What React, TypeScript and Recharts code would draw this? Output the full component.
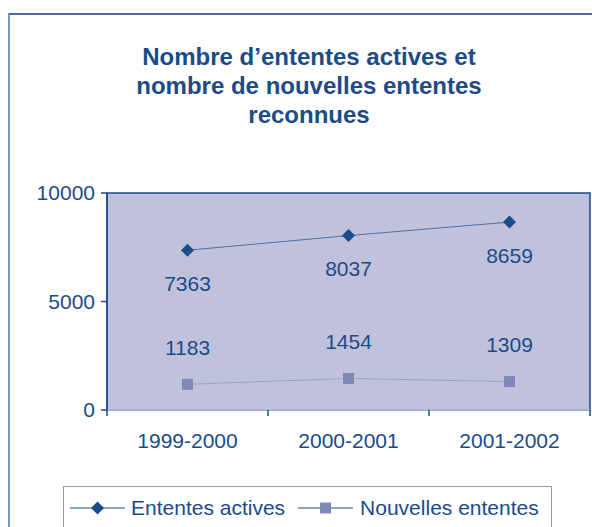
import { LineChart, Line, XAxis, YAxis, ReferenceArea, LabelList } from 'recharts';

// Données
const categories = ['1999-2000', '2000-2001', '2001-2002'];
const ententesActives = [7363, 8037, 8659];
const nouvellesEntentes = [1183, 1454, 1309];
const yTicks = [0, 5000, 10000];

const data = categories.map((periode, i) => ({
  periode,
  actives: ententesActives[i],
  nouvelles: nouvellesEntentes[i],
}));

const FONT = '"Liberation Sans", Arial, Helvetica, sans-serif';
const DARK = '#1b4b88';
const PLOT_BG = '#c0c2db';
const SQUARE = '#8088b8';

const PLOT_LEFT = 107;
const PLOT_RIGHT = 590;
const BAND = (PLOT_RIGHT - PLOT_LEFT) / categories.length;

const Diamond = ({ cx, cy }: any) => (
  <polygon
    points={`${cx},${cy - 6.5} ${cx + 6.5},${cy} ${cx},${cy + 6.5} ${cx - 6.5},${cy}`}
    fill={DARK}
  />
);

const Square = ({ cx, cy }: any) => (
  <rect x={cx - 5.5} y={cy - 5.5} width={11} height={11} fill={SQUARE} />
);

// Excel style : traits de graduation entre les catégories
const XTick = ({ x, y, payload, index }: any) => (
  <g>
    <line x1={x - BAND / 2} x2={x - BAND / 2} y1={y} y2={y + 6} stroke={DARK} strokeWidth={1.5} />
    {index === categories.length - 1 && (
      <line x1={x + BAND / 2} x2={x + BAND / 2} y1={y} y2={y + 6} stroke={DARK} strokeWidth={1.5} />
    )}
    <text x={x} y={y + 31} dy="0.355em" textAnchor="middle" fill={DARK} fontSize={21} fontFamily={FONT}>
      {payload.value}
    </text>
  </g>
);

const makeLabel = (shift: number) => (props: any) => {
  const { x, y, value } = props;
  return (
    <text x={x} y={y + shift} dy="0.355em" textAnchor="middle" fill={DARK} fontSize={21} fontFamily={FONT}>
      {value}
    </text>
  );
};

const LegendIcon = ({ marker }: { marker: 'diamond' | 'square' }) => (
  <svg width={55} height={14} style={{ display: 'block' }}>
    <line x1={0} x2={55} y1={7} y2={7} stroke={DARK} strokeWidth={1.2} />
    {marker === 'diamond' ? (
      <polygon points="27.5,0.5 34,7 27.5,13.5 21,7" fill={DARK} />
    ) : (
      <rect x={22} y={1.5} width={11} height={11} fill={SQUARE} />
    )}
  </svg>
);

export default function App() {
  return (
    <div style={{ position: 'absolute', left: 0, top: 0, width: 592, height: 527, overflow: 'hidden', background: '#fff', fontFamily: FONT }}>
      <div
        style={{
          position: 'absolute',
          left: 8,
          top: 13,
          width: 620,
          height: 560,
          borderLeft: '2px solid #7a9ac6',
          borderTop: '2px solid #4d6e9e',
        }}
      />
      <div
        style={{
          position: 'absolute',
          left: 109,
          top: 42,
          width: 400,
          textAlign: 'center',
          color: DARK,
          fontWeight: 'bold',
          fontSize: 24,
          lineHeight: '29px',
        }}
      >
        Nombre d’ententes actives et
        <br />
        nombre de nouvelles ententes
        <br />
        reconnues
      </div>

      <div style={{ position: 'absolute', left: 0, top: 0 }}>
        <LineChart width={592} height={527} data={data} margin={{ top: 193, right: 2, left: 0, bottom: 87 }}>
          <ReferenceArea yAxisId="y" y1={0} y2={10000} fill={PLOT_BG} fillOpacity={1} stroke={DARK} strokeWidth={1.5} />
          <XAxis
            dataKey="periode"
            scale="band"
            height={30}
            tickSize={0}
            tickMargin={0}
            tick={<XTick />}
            axisLine={{ stroke: '#a3b3d3', strokeWidth: 2 }}
            interval={0}
          />
          <YAxis
            yAxisId="y"
            width={107}
            domain={[0, 10000]}
            ticks={yTicks}
            tickSize={6}
            tickMargin={6}
            axisLine={{ stroke: DARK, strokeWidth: 1.5 }}
            tickLine={{ stroke: DARK, strokeWidth: 1.5 }}
            tick={{ fill: DARK, fontSize: 21, fontFamily: FONT }}
          />
          <Line
            yAxisId="y"
            dataKey="actives"
            type="linear"
            stroke="#4a6fa5"
            strokeWidth={1}
            dot={<Diamond />}
            activeDot={false}
            isAnimationActive={false}
          >
            <LabelList dataKey="actives" content={makeLabel(33)} />
          </Line>
          <Line
            yAxisId="y"
            dataKey="nouvelles"
            type="linear"
            stroke="#98a2c8"
            strokeWidth={1}
            dot={<Square />}
            activeDot={false}
            isAnimationActive={false}
          >
            <LabelList dataKey="nouvelles" content={makeLabel(-37)} />
          </Line>
        </LineChart>
      </div>

      <div
        style={{
          position: 'absolute',
          left: 63,
          top: 486,
          width: 487,
          height: 42,
          border: '1px solid #8aa0c0',
          display: 'flex',
          alignItems: 'center',
          color: DARK,
          fontSize: 21,
        }}
      >
        <div style={{ marginLeft: 6 }}>
          <LegendIcon marker="diamond" />
        </div>
        <span style={{ marginLeft: 6 }}>Ententes actives</span>
        <div style={{ marginLeft: 13 }}>
          <LegendIcon marker="square" />
        </div>
        <span style={{ marginLeft: 7 }}>Nouvelles ententes</span>
      </div>
    </div>
  );
}
